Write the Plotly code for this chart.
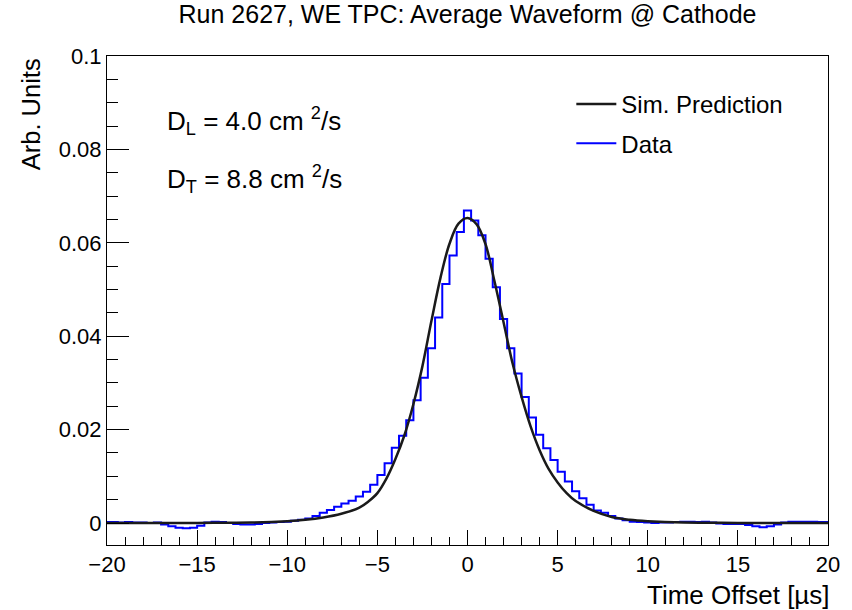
import numpy as np
import plotly.graph_objects as go

# ---- data ----
bin_centers = np.round(np.arange(-20.0, 20.0001, 0.4), 2)
data_vals = [
    0.0002, 0.0002, 0.0001, 0.0002, 0.0001, 0.0001, 0.0000, 0.0001,   # -20 .. -17.2
    -0.0003, -0.0007, -0.0010, -0.0011, -0.0010, -0.0006,               # -16.8 .. -14.8
    0.0001, 0.0003, 0.0002, 0.0000, -0.0002, -0.0003, -0.0003, -0.0002, # -14.4 .. -11.6
    0.0000, 0.0001, 0.0002, 0.0003, 0.0005, 0.0007, 0.0010, 0.0015,     # -11.2 .. -8.4
    0.0022, 0.0028, 0.0035, 0.0042, 0.0048, 0.0057, 0.0067, 0.0082,     # -8.0 .. -5.2
    0.0103, 0.0128, 0.0161, 0.0187, 0.0220, 0.0263, 0.0311, 0.0374,     # -4.8 .. -2.0
    0.0440, 0.0512, 0.0573, 0.0623, 0.0669,                             # -1.6 .. 0
    0.0648, 0.0616, 0.0566, 0.0505, 0.0437, 0.0374, 0.0320, 0.0270,     # 0.4 .. 3.2
    0.0226, 0.0189, 0.0160, 0.0135, 0.0110, 0.0089, 0.0068, 0.0053,     # 3.6 .. 6.4
    0.0039, 0.0027, 0.0022, 0.0015, 0.0010, 0.0006, 0.0003, 0.0002,     # 6.8 .. 9.6
    0.0001, 0.0000, 0.0001, 0.0001, 0.0002, 0.0003, 0.0003, 0.0002,     # 10.0 .. 12.8
    0.0003, 0.0001, -0.0001, -0.0002, -0.0002, -0.0002, -0.0004, -0.0007, # 13.2 .. 16.0
    -0.0009, -0.0007, -0.0003, 0.0001, 0.0003, 0.0003, 0.0003, 0.0003,  # 16.4 .. 19.2
    0.0002, 0.0002,                                                     # 19.6, 20.0
]
assert len(data_vals) == len(bin_centers)

sim_t = [-20, -15, -12, -10, -9, -8, -7, -6, -5.5, -5, -4.5, -4, -3.5, -3, -2.5, -2,
         -1.5, -1, -0.5, 0, 0.5, 1, 1.5, 2, 2.5, 3, 3.5, 4, 4.5, 5, 5.5, 6, 7, 8,
         9, 10, 12, 15, 20]
sim_y = [0.0, 0.00003, 0.0001, 0.0004, 0.0007, 0.0012, 0.0020, 0.0033, 0.0046, 0.0064,
         0.0095, 0.0137, 0.0188, 0.0255, 0.0336, 0.0433, 0.0525, 0.0598, 0.0641, 0.0653,
         0.0640, 0.0597, 0.0517, 0.0430, 0.0342, 0.0270, 0.0207, 0.0156, 0.0116, 0.0087,
         0.0064, 0.0047, 0.0026, 0.0013, 0.0007, 0.0004, 0.0001, 0.00003, 0.0]

x_tickvals = [-20, -15, -10, -5, 0, 5, 10, 15, 20]
x_ticktext = ["\u221220", "\u221215", "\u221210", "\u22125", "0", "5", "10", "15", "20"]
y_tickvals = [0, 0.02, 0.04, 0.06, 0.08, 0.1]
y_ticktext = ["0", "0.02", "0.04", "0.06", "0.08", "0.1"]

FONT = "Liberation Sans, Arial, Helvetica, sans-serif"
TXT = 24
TICK = 22

fig = go.Figure()
fig.add_trace(go.Scatter(
    x=bin_centers, y=data_vals, mode="lines", name="Data",
    line=dict(color="#0000ff", width=2, shape="hvh"),
    legendgroup="b", legendrank=2,
))
fig.add_trace(go.Scatter(
    x=sim_t, y=sim_y, mode="lines", name="Sim. Prediction",
    line=dict(color="#1a1a1a", width=2.5, shape="spline", smoothing=1.0),
    legendgroup="a", legendrank=1,
))

fig.update_layout(
    width=852, height=610,
    margin=dict(l=107, r=20, t=56, b=65),
    paper_bgcolor="white", plot_bgcolor="white",
    font=dict(family=FONT, size=TXT, color="black"),
    title=dict(text="Run 2627, WE TPC: Average Waveform @ Cathode",
               x=0.5, xref="paper", xanchor="center",
               y=0.977, yref="container", yanchor="middle",
               font=dict(size=25)),
    showlegend=True,
    legend=dict(x=0.644, y=0.947, xanchor="left", yanchor="top",
                bgcolor="rgba(0,0,0,0)", font=dict(size=TXT),
                traceorder="grouped", tracegroupgap=5,
                itemwidth=40),
    xaxis=dict(range=[-20, 20], showgrid=False, zeroline=False,
               showline=True, linecolor="black", linewidth=1, mirror=True,
               ticks="inside", ticklen=15, tickcolor="black", tickwidth=1,
               tickvals=x_tickvals, ticktext=x_ticktext,
               tickfont=dict(size=TICK),
               minor=dict(dtick=1, tick0=0, ticks="inside", ticklen=8,
                          tickcolor="black", showgrid=False)),
    yaxis=dict(range=[-0.0047, 0.1], showgrid=False, zeroline=False,
               showline=True, linecolor="black", linewidth=1, mirror=True,
               ticks="inside", ticklen=22, tickcolor="black", tickwidth=1,
               tickvals=y_tickvals, ticktext=y_ticktext,
               tickfont=dict(size=TICK),
               minor=dict(dtick=0.005, tick0=0, ticks="inside", ticklen=11,
                          tickcolor="black", showgrid=False)),
)

fig.add_annotation(text="Time Offset [\u00b5s]", xref="paper", yref="paper",
                   x=1.006, y=-0.102, xanchor="right", yanchor="middle",
                   showarrow=False, font=dict(size=26))
fig.add_annotation(text="Arb. Units", xref="paper", yref="paper",
                   x=-0.105, y=1.0, xanchor="center", yanchor="top",
                   textangle=-90, showarrow=False, font=dict(size=25.5))
fig.add_annotation(text="D<sub>L</sub> = 4.0 cm <sup>2</sup>/s", xref="paper", yref="paper",
                   x=0.08, y=0.868, xanchor="left", yanchor="middle",
                   showarrow=False, font=dict(size=26))
fig.add_annotation(text="D<sub>T</sub> = 8.8 cm <sup>2</sup>/s", xref="paper", yref="paper",
                   x=0.08, y=0.748, xanchor="left", yanchor="middle",
                   showarrow=False, font=dict(size=26))

fig.write_html("out.html", config={"displayModeBar": False})

# remove the default page margin so the figure sits at the window origin
with open("out.html", "r", encoding="utf-8") as f:
    html = f.read()
html = html.replace("<body>", '<body style="margin:0;padding:0;">', 1)
with open("out.html", "w", encoding="utf-8") as f:
    f.write(html)
